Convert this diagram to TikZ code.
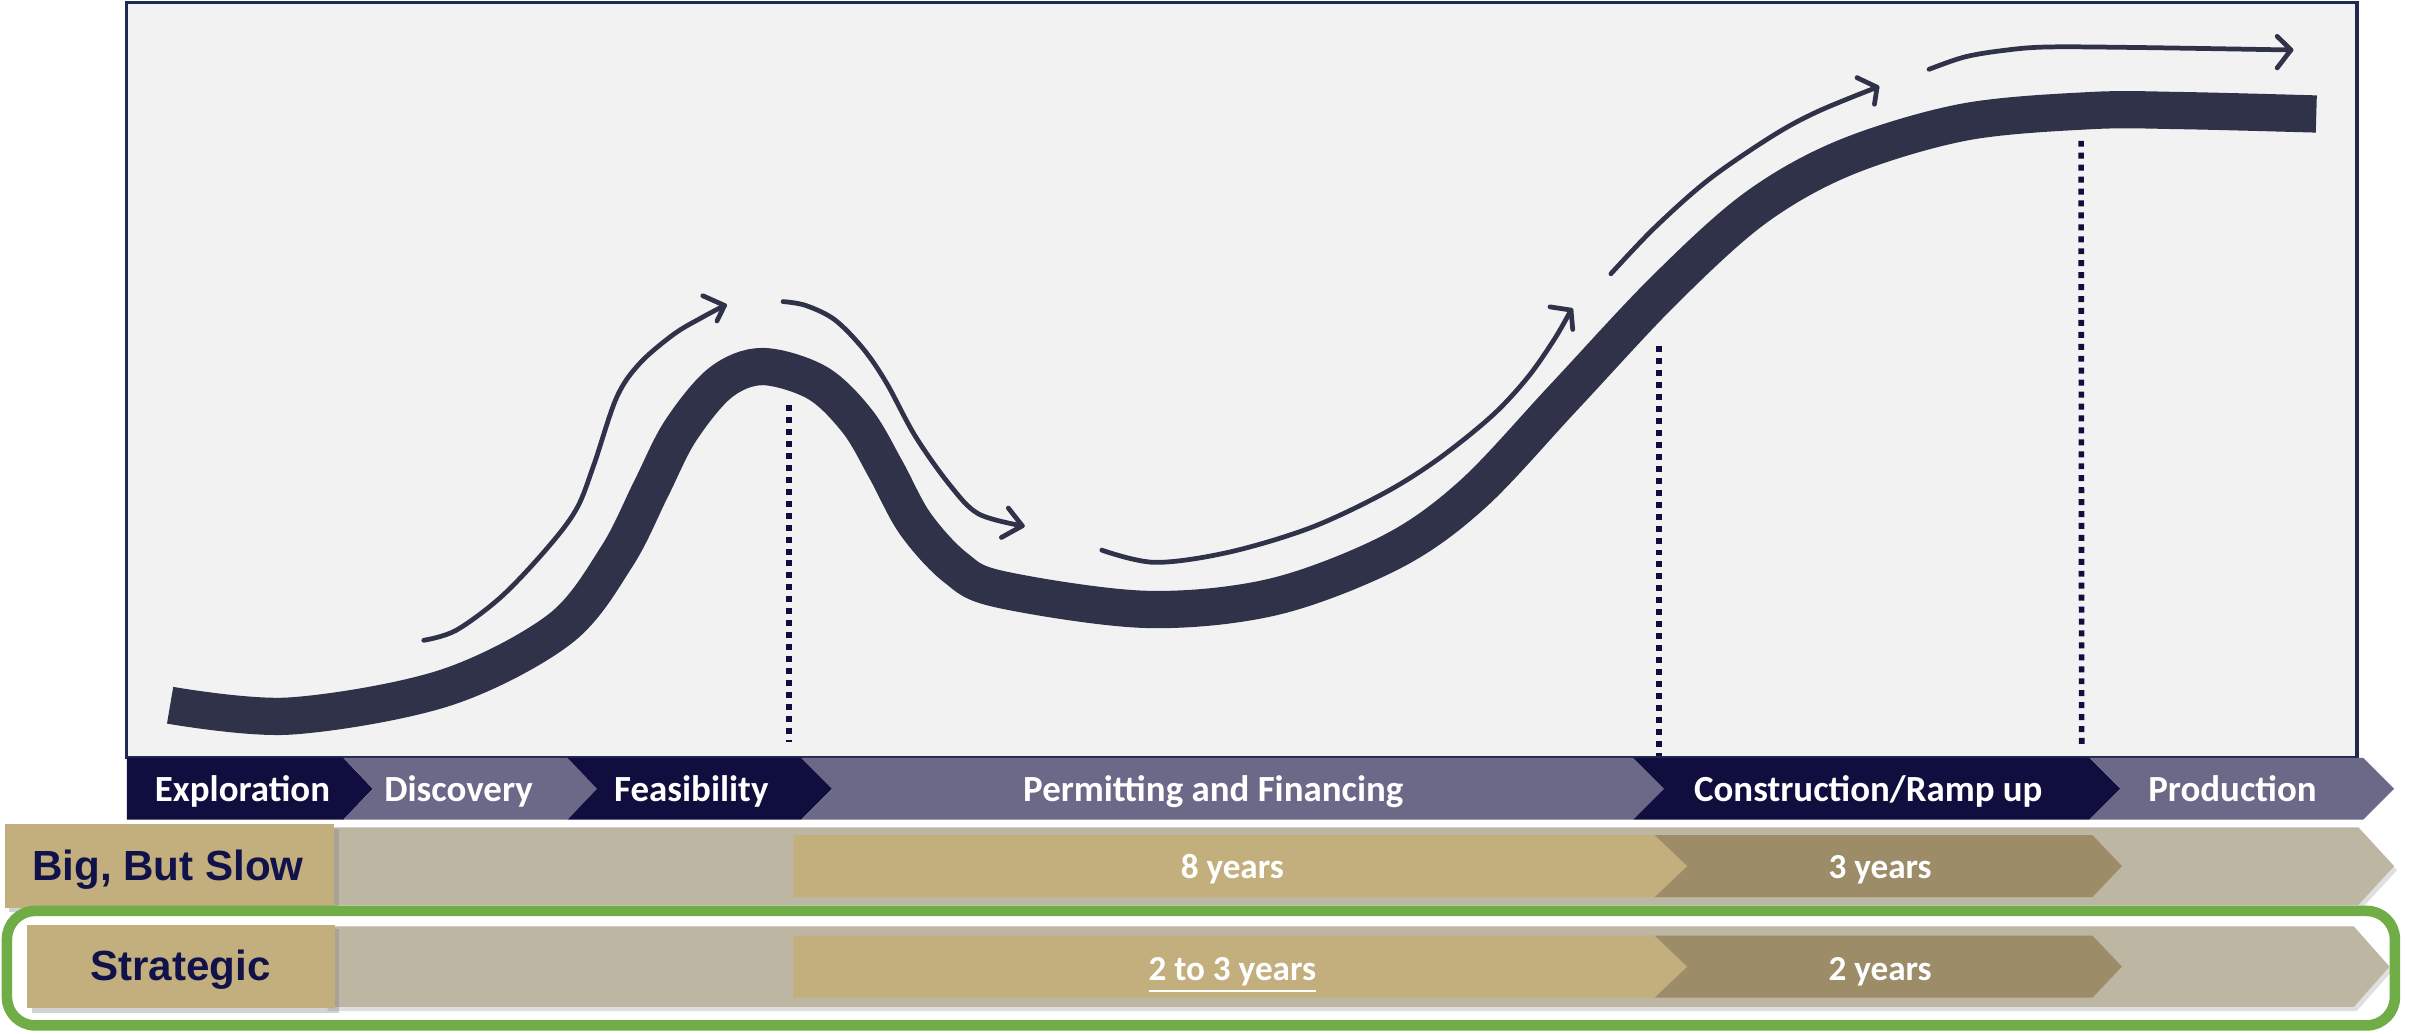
\documentclass[tikz,border=0pt]{standalone}
\usepackage{fontspec}
\setmainfont{Carlito}
\newfontfamily\labfont{Liberation Sans}
\usetikzlibrary{shadows}
\definecolor{navy}{HTML}{0F0E3F}
\definecolor{lav}{HTML}{6B6888}
\definecolor{boxbg}{HTML}{F2F2F2}
\definecolor{boxline}{HTML}{1F2A4E}
\definecolor{tanc}{HTML}{C3AF7D}
\definecolor{khaki}{HTML}{9C8C68}
\definecolor{barbg}{HTML}{BDB6A2}
\definecolor{slate}{HTML}{30324A}
\definecolor{labtxt}{HTML}{12124A}
\definecolor{grn}{HTML}{70AD47}
\begin{document}
\begin{tikzpicture}[x=0.015466cm,y=-0.015466cm,
  phasetxt/.style={text=white,font=\fontsize{10.5}{12}\selectfont\bfseries,inner sep=0,anchor=base},
  yeartxt/.style={text=white,font=\fontsize{10}{12}\selectfont\bfseries,inner sep=0,anchor=base},
  labtext/.style={text=labtxt,font=\labfont\fontsize{12}{14}\selectfont\bfseries,inner sep=0,anchor=base},
  mainline/.style={draw=slate,line width=10.6pt,line cap=butt},
  thinarrow/.style={draw=slate,line width=1.35pt,line cap=round,line join=round},
  dotline/.style={draw=navy,line width=1.6pt,dash pattern=on 1.7pt off 1.7pt},
  labbox/.style={fill=tanc,drop shadow={shadow xshift=1.3pt,shadow yshift=-1.3pt,opacity=0.35}},
  barshape/.style={fill=barbg,drop shadow={shadow xshift=0.8pt,shadow yshift=-1.2pt,opacity=0.25}}
]
\useasboundingbox[fill=white] (0,0) rectangle (1568,668);

% main panel
\draw[fill=boxbg,draw=boxline,line width=0.9pt] (82,1.6) rectangle (1524,490);

% main curve
\draw[mainline] plot[smooth,tension=0.55] coordinates {
 (110,456) (187,463) (287,445) (361.6,407) (398.7,360) (421,316) (439.7,279)
 (465.6,247.6) (493,237) (528.6,247.6) (554.6,272.7) (573,304) (591.7,338.5)
 (617.6,366.8) (646.6,381) (740.6,394) (823,386) (899.5,357) (952,319.7)
 (1011,257) (1075.7,188) (1134.5,134.8) (1193,101.9) (1269.7,79) (1352,71.5)
 (1410.7,71.5) (1497.7,73.7)};

% dotted lines
\coordinate (d1t) at (510,262); \coordinate (d1b) at (510,480);
\coordinate (d2t) at (1072.7,224); \coordinate (d2b) at (1072.7,489);
\coordinate (d3t) at (1345.6,91); \coordinate (d3b) at (1346,483);
\draw[dotline] (d1t) -- (d1b);
\draw[dotline] (d2t) -- (d2b);
\draw[dotline] (d3t) -- (d3b);

% thin hand-drawn arrows
\draw[thinarrow] plot[smooth,tension=0.55] coordinates {
 (274,414) (295,407.5) (324.5,385.5) (354.2,354) (372.8,329) (383.9,300.8)
 (398.7,257) (413.6,235) (435.8,216) (454.4,205) (468.5,197.5)};
\draw[thinarrow] (454.4,191.2) -- (468.5,197.5) -- (463.6,207.5);

\draw[thinarrow] plot[smooth,tension=0.55] coordinates {
 (506.3,195) (521,197.5) (539.8,206.8) (558.3,225.7) (573.2,247.6) (591.8,282)
 (614,313.4) (632.6,332.2) (661,340)};
\draw[thinarrow] (652,328.5) -- (661,340) -- (647.5,347.5);

\draw[thinarrow] plot[smooth,tension=0.55] coordinates {
 (712.4,355.7) (746.5,363.6) (793.4,357.3) (846.4,341.6) (893.4,319.7)
 (928.7,297.7) (964,269.5) (987.4,244.5) (1005,219.4) (1015.8,200.5)};
\draw[thinarrow] (1002.2,198.4) -- (1015.8,200.5) -- (1016.9,213);

\draw[thinarrow] plot[smooth,tension=0.55] coordinates {
 (1041.6,177) (1069.8,147.3) (1105,116) (1146.2,87.8) (1175.5,72) (1213.7,56.4)};
\draw[thinarrow] (1200.7,50.2) -- (1213.7,56.4) -- (1212,67.4);

\draw[thinarrow] plot[smooth,tension=0.55] coordinates {
 (1247.3,44.8) (1269.7,37) (1293.2,32.9) (1322.6,30.4) (1381.3,30.7) (1481.3,32.3)};
\draw[thinarrow] (1472.4,23.5) -- (1481.3,32.3) -- (1472.4,43.9);

% phase chevrons
\fill[navy] (82,490) -- (222,490) -- (241,510) -- (222,530) -- (82,530) -- cycle;
\fill[lav] (222,490) -- (367,490) -- (386,510) -- (367,530) -- (222,530) -- (241,510) -- cycle;
\fill[navy] (367,490) -- (518,490) -- (538,510) -- (518,530) -- (367,530) -- (386,510) -- cycle;
\fill[lav] (518,490) -- (1056,490) -- (1076,510) -- (1056,530) -- (518,530) -- (538,510) -- cycle;
\fill[navy] (1056,490) -- (1351,490) -- (1371,510) -- (1351,530) -- (1056,530) -- (1076,510) -- cycle;
\fill[lav] (1351,490) -- (1528,490) -- (1548,510) -- (1528,530) -- (1351,530) -- (1371,510) -- cycle;
\node[phasetxt] (p1) at (156.8,518) {Exploration};
\node[phasetxt] (p2) at (296.5,518) {Discovery};
\node[phasetxt] (p3) at (447,518) {Feasibility};
\node[phasetxt] (p4) at (784.5,518) {Permitting and Financing};
\node[phasetxt] (p5) at (1208,518) {Construction/Ramp up};
\node[phasetxt] (p6) at (1443.5,518) {Production};

% row 1
\path[barshape] (210,535) -- (1525,535) -- (1548,560) -- (1525,585) -- (210,585) -- cycle;
\fill[tanc] (513,540) -- (1070,540) -- (1091,560) -- (1070,580) -- (513,580) -- cycle;
\fill[khaki] (1070,540) -- (1353,540) -- (1372,560) -- (1353,580) -- (1070,580) -- (1091,560) -- cycle;
\path[labbox] (3,533) rectangle (216,587);
\node[labtext] (l1) at (108.6,569.4) {Big, But Slow};
\node[yeartxt] (y1) at (796.8,568) {8 years};
\node[yeartxt] (y2) at (1215.7,568) {3 years};

% row 2
\path[barshape] (210,599) -- (1522,599) -- (1545,625) -- (1522,651) -- (210,651) -- cycle;
\fill[tanc] (513,605) -- (1070,605) -- (1091,625) -- (1070,645) -- (513,645) -- cycle;
\fill[khaki] (1070,605) -- (1353,605) -- (1372,625) -- (1353,645) -- (1070,645) -- (1091,625) -- cycle;
\path[labbox] (17.5,598) rectangle (216.5,652);
\node[labtext] (l2) at (116.6,634) {Strategic};
\node[yeartxt] (y3) at (796.8,634) {\underline{2 to 3 years}};
\node[yeartxt] (y4) at (1215.7,634) {2 years};

% green highlight
\draw[grn,line width=3pt,rounded corners=8pt] (4.5,589) rectangle (1548.5,663);
\end{tikzpicture}
\end{document}
